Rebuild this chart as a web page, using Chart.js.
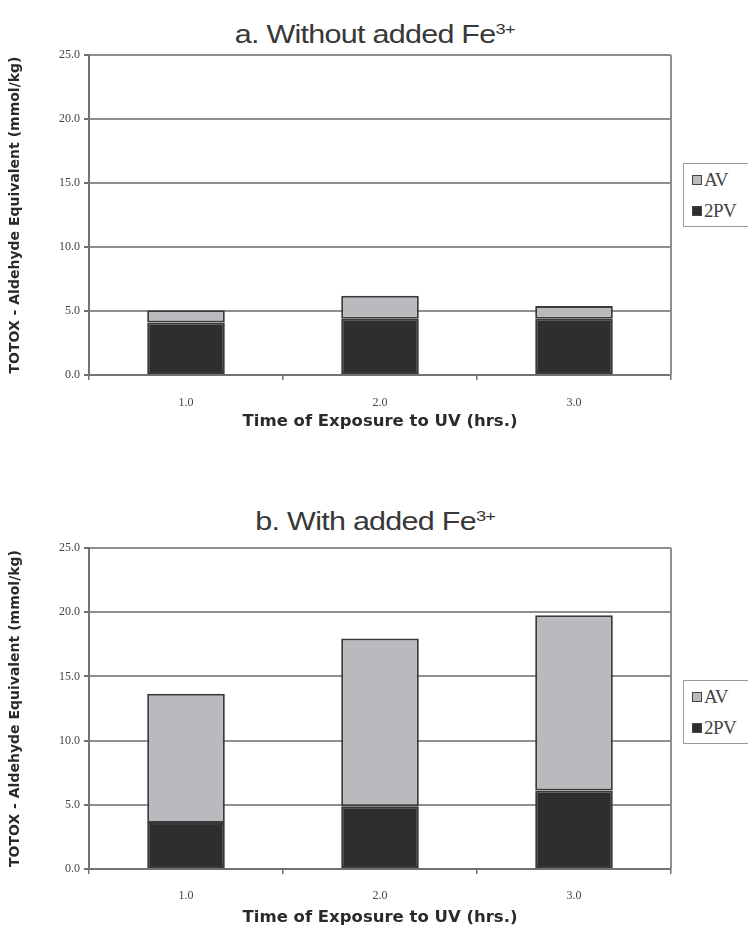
<!DOCTYPE html>
<html>
<head>
<style>
  body { margin: 0; padding: 0; background: #fff; width: 748px; height: 928px; overflow: hidden; position: relative; }
  .chart-box { position: absolute; left: 0; width: 748px; }
  .title {
    position: absolute; left: 0; width: 750px; text-align: center; line-height: 32px;
    font-family: "Liberation Sans", Arial, sans-serif; font-size: 25px; color: #383838;
  }
  .title span { display: inline-block; transform: scaleX(1.22); letter-spacing: -0.6px; }
  .title sup { font-size: 15px; vertical-align: 9px; line-height: 0; }
  .legend {
    position: absolute; left: 683px; width: 90px; border: 1.5px solid #9a9a9a; background: #fff;
    font-family: "Liberation Serif", "Times New Roman", serif; font-size: 19px; color: #444;
  }
  .legend div { height: 31px; line-height: 31px; padding-left: 8px; letter-spacing: -0.5px; }
  .legend span.sw { display: inline-block; width: 8px; height: 8px; border: 1px solid #444; margin-right: 2px; vertical-align: 1px; }
</style>
<title>TOTOX charts</title>
<script src="https://cdn.jsdelivr.net/npm/chart.js@4.4.1/dist/chart.umd.min.js"></script>
</head>
<body>
  <div class="title" style="top: 18px;"><span>a. Without added Fe<sup>3+</sup></span></div>
  <div class="chart-box" style="top: 0; height: 440px;"><canvas id="chartA" width="748" height="440"></canvas></div>
  <div class="legend" style="top: 163px;">
    <div><span class="sw" style="background:#b9babd"></span>AV</div>
    <div><span class="sw" style="background:#2e2e2e"></span>2PV</div>
  </div>

  <div class="title" style="top: 505px;"><span>b. With added Fe<sup>3+</sup></span></div>
  <div class="chart-box" style="top: 470px; height: 458px;"><canvas id="chartB" width="748" height="458"></canvas></div>
  <div class="legend" style="top: 680px;">
    <div><span class="sw" style="background:#b9babd"></span>AV</div>
    <div><span class="sw" style="background:#2e2e2e"></span>2PV</div>
  </div>

<script>
  // data
  const hours = ['1.0', '2.0', '3.0'];
  const yTicks = [0, 5, 10, 15, 20, 25];

  // a. without added Fe3+
  const pv2_noFe = [4.1, 4.4, 4.4];
  const av_noFe = [0.95, 1.8, 1.0];

  // b. with added Fe3+
  const pv2_Fe = [3.58, 4.88, 6.12];
  const av_Fe = [10.06, 13.07, 13.65];

  const gridGrey = '#8e8e8e';
  const axisGrey = '#727272';

  // right-hand frame line like the Excel plot area
  const framePlugin = {
    id: 'frame',
    afterDraw(chart) {
      const a = chart.chartArea;
      const ctx = chart.ctx;
      ctx.save();
      ctx.strokeStyle = gridGrey;
      ctx.lineWidth = 2;
      ctx.beginPath();
      ctx.moveTo(a.right, a.top);
      ctx.lineTo(a.right, a.bottom);
      ctx.stroke();
      ctx.restore();
    }
  };

  function makeChart(id, pv, av, topPad, xHeight, labelPad, titlePad) {
    const ctx = document.getElementById(id).getContext('2d');
    return new Chart(ctx, {
      type: 'bar',
      data: {
        labels: hours,
        datasets: [
          {
            label: '2PV',
            data: pv,
            backgroundColor: '#2e2e2e',
            borderColor: '#3a3a3a',
            borderWidth: 2,
            borderSkipped: false
          },
          {
            label: 'AV',
            data: av,
            backgroundColor: '#b9babd',
            borderColor: '#3a3a3a',
            borderWidth: 2,
            borderSkipped: false
          }
        ]
      },
      options: {
        responsive: false,
        animation: false,
        categoryPercentage: 0.4,
        barPercentage: 1.0,
        layout: { padding: { top: topPad, right: 77, left: 0, bottom: 0 } },
        plugins: {
          legend: { display: false },
          tooltip: { enabled: false }
        },
        scales: {
          x: {
            stacked: true,
            afterFit(scale) { scale.height = xHeight; },
            grid: { offset: true, drawOnChartArea: false, drawTicks: true, tickLength: 5, color: axisGrey, lineWidth: 1.5 },
            border: { color: axisGrey, width: 2 },
            ticks: {
              padding: labelPad,
              color: '#444',
              font: { family: 'Liberation Serif', size: 12 }
            },
            title: {
              display: true,
              text: 'Time of Exposure to UV (hrs.)',
              color: '#2a2a2a',
              font: { family: 'DejaVu Sans', size: 16.5, weight: 'bold' },
              padding: { top: 0, bottom: titlePad }
            }
          },
          y: {
            stacked: true,
            min: 0,
            max: 25,
            afterFit(scale) { scale.width = 89; },
            afterBuildTicks(scale) { scale.ticks = yTicks.map(v => ({ value: v })); },
            grid: { color: gridGrey, lineWidth: 2, tickLength: 5, tickColor: axisGrey },
            border: { color: axisGrey, width: 2 },
            ticks: {
              padding: 4,
              color: '#444',
              font: { family: 'Liberation Serif', size: 12 },
              callback: v => v.toFixed(1)
            },
            title: {
              display: true,
              text: 'TOTOX - Aldehyde Equivalent (mmol/kg)',
              color: '#2a2a2a',
              font: { family: 'DejaVu Sans', size: 14, weight: 'bold' },
              padding: { top: 7, bottom: 0 }
            }
          }
        }
      },
      plugins: [framePlugin]
    });
  }

  makeChart('chartA', pv2_noFe, av_noFe, 55, 65, 16, 8);
  makeChart('chartB', pv2_Fe, av_Fe, 78, 59, 15, 0);
</script>
</body>
</html>
